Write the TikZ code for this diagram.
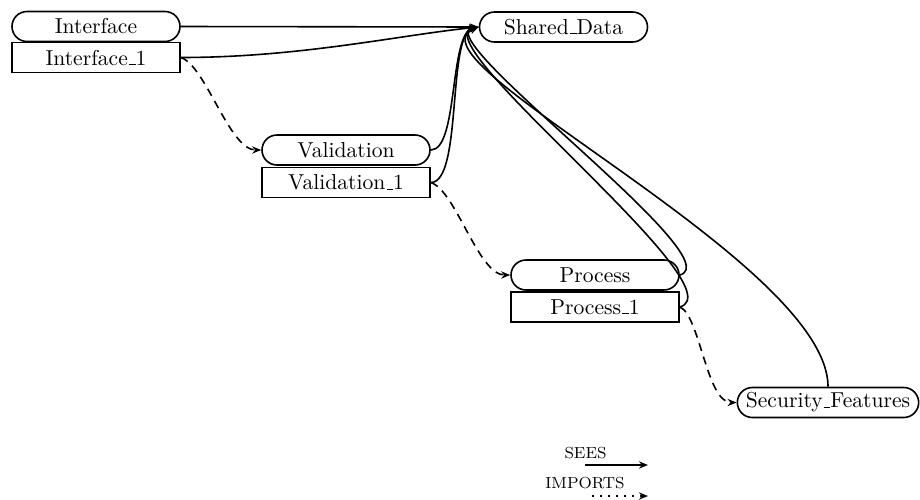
\documentclass[tikz,border=0pt]{standalone}
\usetikzlibrary{arrows.meta}

\newcommand\us{\leavevmode\kern.06em\vbox{\hrule width.3em height.5pt}}

\tikzset{
  machine/.style={draw, line width=0.8pt, rounded corners=7.5pt, minimum width=84pt,
    minimum height=15pt, inner xsep=4.25pt, inner ysep=0pt, font=\fontsize{10.8}{13}\selectfont},
  implem/.style={draw, line width=0.8pt, minimum width=84pt, minimum height=15pt,
    inner ysep=0pt, font=\fontsize{10.8}{13}\selectfont},
  sees/.style={line width=0.8pt, -{Stealth[length=4.5pt,width=3.6pt]}},
  imports/.style={line width=0.8pt, dash pattern=on 4pt off 3pt, -{Stealth[length=4.5pt,width=3.6pt]}},
  legend/.style={font=\footnotesize, inner sep=0pt}
}

\begin{document}
\begin{tikzpicture}[x=0.5pt,y=-0.5pt]
\useasboundingbox (0,0) rectangle (920,499);

% machines and implementations
\node[machine] (intf) at (96,26.5) {Interface};
\node[implem] (intf1) at (96,57.5) {Interface\us1};
\node[machine] (shared) at (563.5,27) {Shared\us Data};
\node[machine] (val) at (346,150) {Validation};
\node[implem] (val1) at (346,182.5) {Validation\us1};
\node[machine] (proc) at (595,275) {Process};
\node[implem] (proc1) at (595,307) {Process\us1};
\node[machine] (sec) at (828,402.5) {Security\us Features};

% sees links
\draw[sees] (intf.east) -- (shared.west);
\draw[sees] (intf1.east) .. controls +(120,0) and +(-79,8) .. (shared.west);
\draw[sees] (val.east) .. controls +(28,0) and +(-30,5) .. (shared.west);
\draw[sees] (val1.east) .. controls +(32,0) and +(-32,5) .. (shared.west);
\draw[sees] (proc.east) .. controls +(55,-15) and +(-54,8) .. (shared.west);
\draw[sees] (proc1.east) .. controls +(62,-18) and +(-59,13) .. (shared.west);
\draw[sees] (sec.north) .. controls +(0,-125) and +(-79,33) .. (shared.west);

% imports links
\draw[imports] (intf1.east) .. controls +(25,8) and +(-32,0) .. (val.west);
\draw[imports] (val1.east) .. controls +(25,8) and +(-32,0) .. (proc.west);
\draw[imports] (proc1.east) .. controls +(20,8) and +(-30,0) .. (sec.west);

% legend
\node[legend] (seesl) at (585.5,453) {SEES};
\coordinate (seesa) at (585,465);
\coordinate (seesb) at (648,465);
\draw[sees] (seesa) -- (seesb);
\node[legend] (impl) at (585,483) {IMPORTS};
\coordinate (impa) at (592,496);
\coordinate (impb) at (648,496);
\draw[line width=0.8pt, dash pattern=on 0.8pt off 3.2pt, -{Stealth[length=4.5pt,width=3.6pt]}] (impa) -- (impb);
\end{tikzpicture}
\end{document}
